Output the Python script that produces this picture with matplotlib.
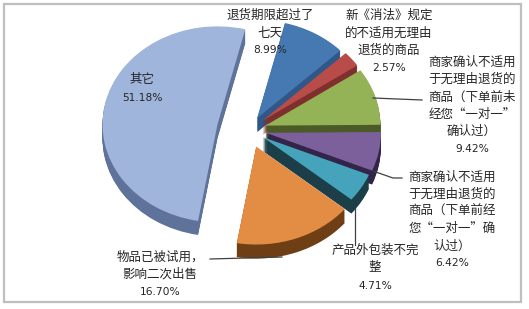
import matplotlib
matplotlib.use("Agg")
import matplotlib.pyplot as plt
from matplotlib.patches import Rectangle

# data (clockwise from the top)
names = ["退货期限超过了\n七天",
         "新《消法》规定\n的不适用无理由\n退货的商品",
         "商家确认不适用\n于无理由退货的\n商品（下单前未\n经您“一对一”\n确认过）",
         "商家确认不适用\n于无理由退货的\n商品（下单前经\n您“一对一”确\n认过）",
         "产品外包装不完\n整",
         "物品已被试用，\n影响二次出售",
         "其它"]
values = [8.99, 2.57, 9.42, 6.42, 4.71, 16.70, 51.18]
pct_labels = ["8.99%", "2.57%", "9.42%", "6.42%", "4.71%", "16.70%", "51.18%"]

face_colors = ["#4678B2", "#B84C49", "#94B356", "#7B609C", "#45A3BC", "#E38C44", "#A0B5DB"]
side_colors = ["#2F5788", "#7E302E", "#4B5A27", "#33254A", "#1B3E48", "#6E3F14", "#5F729A"]
explode = [0.14, 0.15, 0.15, 0.15, 0.14, 0.18, 0.28]

W, H = 529, 309
cx, cy, rx, ry = 249, 130, 115, 98
depth = 14

fig = plt.figure(figsize=(W / 100, H / 100), dpi=100)
ax = fig.add_axes([0, 0, 1, 1])

# side walls: stack darker copies downward
for k in range(depth, 0, -1):
    ax.pie(values, colors=side_colors, explode=explode, startangle=76,
           counterclock=False, center=(0, -k / ry), radius=1,
           wedgeprops=dict(linewidth=0))
ax.pie(values, colors=face_colors, explode=explode, startangle=76,
       counterclock=False, center=(0, 0), radius=1,
       wedgeprops=dict(linewidth=0))
ax.set_aspect("auto")
ax.set_xlim(-cx / rx, (W - cx) / rx)
ax.set_ylim(-(H - cy) / ry, cy / ry)
ax.axis("off")

# overlay in pixel coords for labels
ov = fig.add_axes([0, 0, 1, 1])
ov.set_xlim(0, W)
ov.set_ylim(H, 0)
ov.axis("off")
ov.patch.set_alpha(0)

ov.add_patch(Rectangle((4, 4), 517, 298, fill=False, ec="#BFBFBF", lw=1.6))

cjk = ["Noto Sans CJK SC", "DejaVu Sans"]
tc = "#262626"
# (x center, y of first line, line step)
pos = [(270, 15, 17.5), (389, 15, 17.8), (472, 62, 17.4),
       (452, 177, 17.2), (375, 250, 18), (160, 257, 17.5), (142, 80, 18)]
for name, pct, (x, y0, step) in zip(names, pct_labels, pos):
    lines = name.split("\n")
    for i, ln in enumerate(lines):
        ov.text(x, y0 + i * step, ln, family=cjk, fontsize=9, color=tc,
                ha="center", va="center")
    ov.text(x, y0 + len(lines) * step, pct, family="DejaVu Sans",
            fontsize=7.7, color=tc, ha="center", va="center")

# leader lines
lc = "#404040"
ov.plot([373, 422], [98, 100], color=lc, lw=0.9)
ov.plot([373, 393, 402], [171, 178, 178], color=lc, lw=0.9)
ov.plot([355, 355], [208, 245], color=lc, lw=0.9)
ov.plot([210, 282], [259, 257], color=lc, lw=0.9)

fig.savefig("out.png", dpi=100)
